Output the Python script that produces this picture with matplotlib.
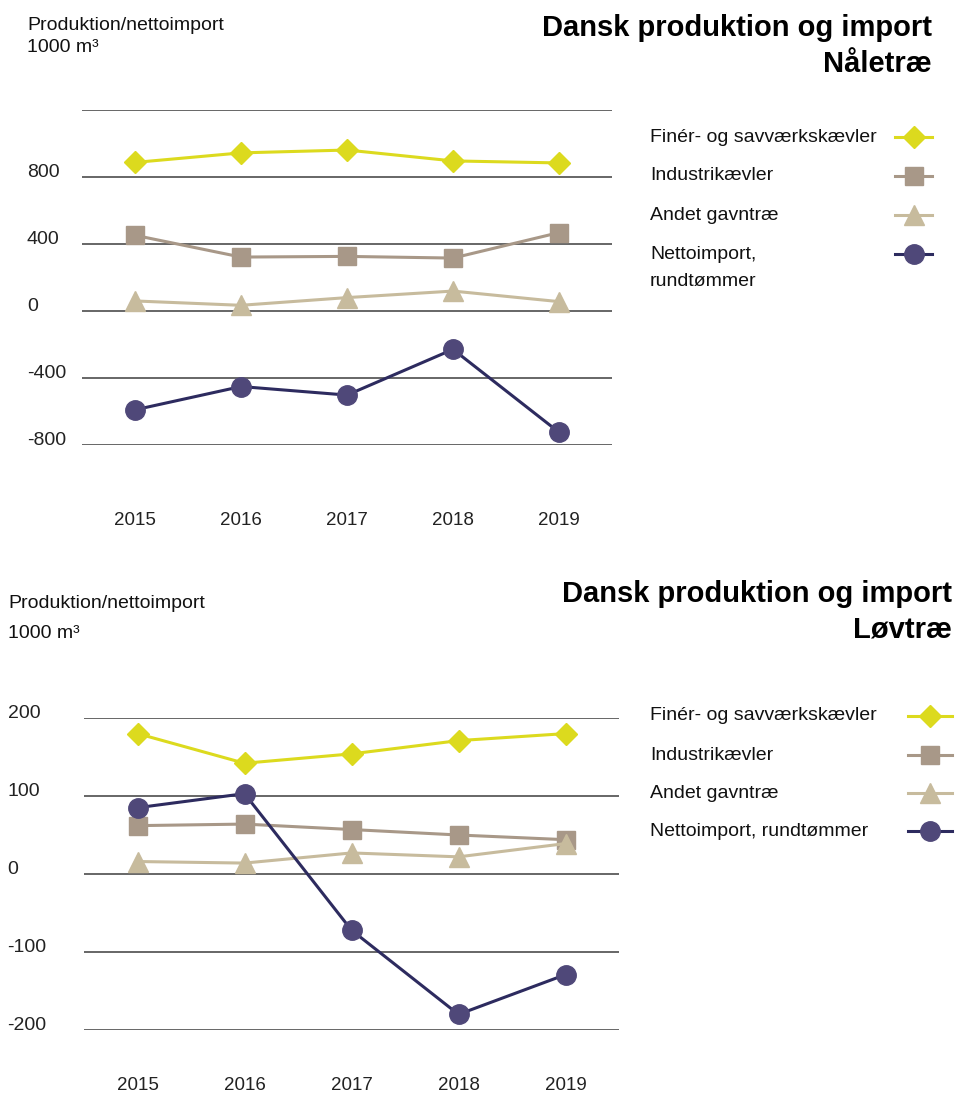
import matplotlib
matplotlib.use("Agg")
import matplotlib.pyplot as plt
import matplotlib.transforms as mtrans
from matplotlib.lines import Line2D

plt.rcParams['font.family'] = ['Liberation Sans', 'DejaVu Sans']

# Data (1000 m3)
aar = ['2015', '2016', '2017', '2018', '2019']

serier = ['Finér- og savværkskævler', 'Industrikævler', 'Andet gavntræ', 'Nettoimport, rundtømmer']

naale_finer = [887, 944, 961, 896, 884]
naale_industri = [452, 322, 326, 316, 468]
naale_andet = [60, 34, 80, 119, 56]
naale_netto = [-590, -451, -502, -229, -724]

loev_finer = [180, 142, 154, 171, 180]
loev_industri = [62, 64, 57, 50, 44]
loev_andet = [16, 14, 27, 22, 39]
loev_netto = [85, 103, -72, -180, -129]

# Stil for hver serie
stil = [
    dict(color='#DCDA1E', marker='D', ms=11.5, mfc='#DCDA1E', mec='#DCDA1E'),
    dict(color='#A89888', marker='s', ms=13.5, mfc='#A89888', mec='#A89888'),
    dict(color='#C7BB9D', marker='^', ms=14, mfc='#C7BB9D', mec='#C7BB9D'),
    dict(color='#2D2B5F', marker='o', ms=14, mfc='#4F4879', mec='#4F4879'),
]

W, H = 955, 1095
fig = plt.figure(figsize=(W / 100, H / 100), dpi=100)


def axes_px(left, top, right, bottom):
    return fig.add_axes([left / W, 1 - bottom / H, (right - left) / W, (bottom - top) / H])


def tegn_panel(ax, data, grid, ticks, ylim, ylab_pad, x_pad):
    x = list(range(len(aar)))
    for g in grid:
        ax.axhline(g, color='#4d4d4d', lw=1.2, zorder=1)
    for vals, s in zip(data, stil):
        ax.plot(x, vals, lw=2.2, clip_on=False, zorder=3, **s)
    ax.set_xlim(-0.5, len(aar) - 0.5)
    ax.set_ylim(*ylim)
    ax.set_xticks(x)
    ax.set_xticklabels(aar, fontsize=13.5, color='#222222')
    ax.set_yticks(ticks)
    ax.set_yticklabels([str(t) for t in ticks], fontsize=14, color='#222222')
    ax.tick_params(axis='both', length=0)
    ax.tick_params(axis='y', pad=ylab_pad)
    ax.tick_params(axis='x', pad=x_pad)
    for lab in ax.get_yticklabels():
        lab.set_horizontalalignment('left')
        lab.set_transform(lab.get_transform() + mtrans.ScaledTranslation(0, 0.06, fig.dpi_scale_trans))
    for sp in ax.spines.values():
        sp.set_visible(False)


def legende(labels, ys, x_text, x0, x1):
    for lab, y, s in zip(labels, ys, stil):
        fig.text(x_text / W, 1 - y / H, lab, fontsize=14, va='center', ha='left', color='#111111',
                 linespacing=1.75)
        xm = (x0 + x1) / 2
        ln = Line2D([x0 / W, xm / W, x1 / W], [1 - y / H] * 3, transform=fig.transFigure,
                    lw=2.2, markevery=[1], **s)
        fig.add_artist(ln)


# Nåletræ
ax1 = axes_px(82, 110, 612, 445)
tegn_panel(ax1, [naale_finer, naale_industri, naale_andet, naale_netto],
           [-800, -400, 0, 400, 800, 1200], [-800, -400, 0, 400, 800], (-800, 1200), 39.6, 48)
fig.text(27 / W, 1 - 25 / H, 'Produktion/nettoimport', fontsize=14, va='center', color='#111111')
fig.text(27 / W, 1 - 47 / H, '1000 m³', fontsize=14, va='center', color='#111111')
fig.text(932 / W, 1 - 28 / H, 'Dansk produktion og import', fontsize=21, weight='bold', ha='right', va='center')
fig.text(932 / W, 1 - 64 / H, 'Nåletræ', fontsize=21, weight='bold', ha='right', va='center')
legende(['Finér- og savværkskævler', 'Industrikævler', 'Andet gavntræ', 'Nettoimport,\nrundtømmer'],
        [137, 176, 215, 254], 650, 895, 932)
# flyt tekst for to-linjers label
fig.texts[-1].set_position((650 / W, 1 - 268 / H))

# Løvtræ
ax2 = axes_px(84, 718, 619, 1030)
tegn_panel(ax2, [loev_finer, loev_industri, loev_andet, loev_netto],
           [-200, -100, 0, 100, 200], [-200, -100, 0, 100, 200], (-200, 200), 55, 34)
fig.text(8 / W, 1 - 604 / H, 'Produktion/nettoimport', fontsize=14, va='center', color='#111111')
fig.text(8 / W, 1 - 634 / H, '1000 m³', fontsize=14, va='center', color='#111111')
fig.text(952 / W, 1 - 594 / H, 'Dansk produktion og import', fontsize=21, weight='bold', ha='right', va='center')
fig.text(952 / W, 1 - 630 / H, 'Løvtræ', fontsize=21, weight='bold', ha='right', va='center')
legende(serier, [716, 755, 793, 831], 650, 908, 952)

fig.savefig('out.png', dpi=100)
